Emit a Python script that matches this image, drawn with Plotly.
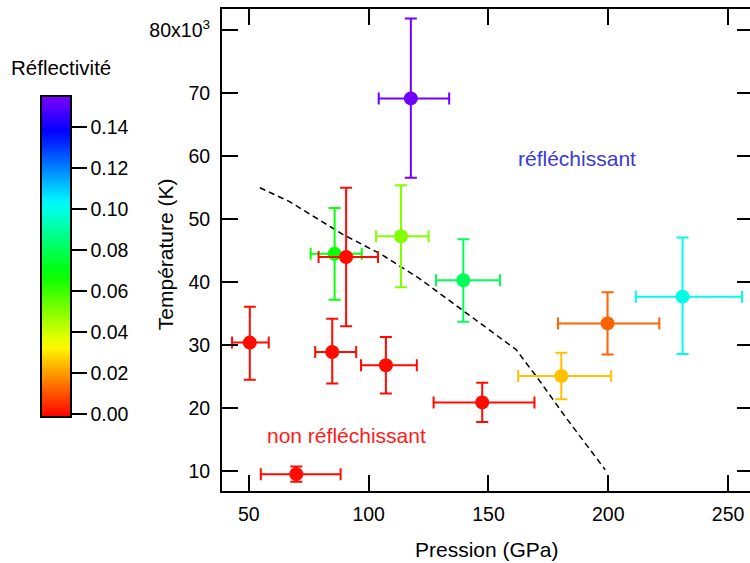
import colorsys
import plotly.graph_objects as go
from plotly.colors import sample_colorscale

# ---- data (pressure in GPa, temperature in 10^3 K) ----
pression = [85.8, 113.5, 139.5, 180.4, 199.7, 231.0, 117.6,
            69.8, 50.4, 84.8, 107.2, 90.6, 147.4]
temperature = [44.5, 47.3, 40.3, 25.1, 33.45, 37.7, 69.2,
               9.5, 30.4, 28.9, 26.8, 44.0, 20.9]
reflectivite = [0.068, 0.050, 0.080, 0.025, 0.012, 0.100, 0.153,
                0.0, 0.0, 0.0, 0.0, 0.0, 0.0]
p_err_minus = [10.0, 10.4, 11.4, 18.0, 20.7, 19.5, 13.4,
               14.8, 7.4, 7.1, 10.4, 11.5, 20.3]
p_err_plus = [11.3, 11.5, 15.3, 20.8, 21.6, 24.8, 16.0,
              18.5, 7.9, 10.0, 12.9, 13.3, 21.8]
t_err_minus = [7.3, 8.1, 6.6, 3.7, 4.95, 9.1, 12.6,
               1.2, 5.9, 5.0, 4.5, 11.0, 3.1]
t_err_plus = [7.3, 8.1, 6.5, 3.7, 4.95, 9.4, 12.7,
              1.2, 5.7, 5.3, 4.5, 11.0, 3.1]

limite_p = [54.6, 67.0, 89.2, 105.8, 121.1, 139.1, 155.7, 161.5, 171.0, 182.1, 198.7]
limite_t = [55.0, 52.8, 47.6, 44.3, 40.6, 35.6, 30.9, 29.3, 24.5, 18.6, 10.2]

x_ticks = [50, 100, 150, 200, 250]
y_ticks = [10, 20, 30, 40, 50, 60, 70, 80]
y_ticktext = ["10", "20", "30", "40", "50", "60", "70", "80x10<sup>3</sup>"]
cb_ticks = [0.0, 0.02, 0.04, 0.06, 0.08, 0.10, 0.12, 0.14]

CMIN, CMAX = -0.0015, 0.155

# rainbow colour table (hue 0 -> 270 deg)
n = 28
colorscale = []
for i in range(n + 1):
    f = i / n
    r, g, b = colorsys.hsv_to_rgb(f * 270 / 360, 1, 1)
    colorscale.append([f, f"rgb({int(r*255)},{int(g*255)},{int(b*255)})"])

FONT = "Liberation Sans, Arial, sans-serif"

# page layout (body margin removed below); the right frame lies just off-page
OFF = 0
W, H = 755, 563
L, T, B = 222, 9, 72
PW, PH = W - L, H - T - B


def px(page_x):
    return (page_x - OFF - L) / PW


def py(page_y):
    return (H - B - (page_y - OFF)) / PH


fig = go.Figure()

fig.add_trace(go.Scatter(
    x=limite_p, y=limite_t, mode="lines",
    line=dict(color="black", width=1.5, dash="6px,4px"),
    showlegend=False, hoverinfo="skip"))

for i in range(len(pression)):
    c = sample_colorscale(colorscale, [(reflectivite[i] - CMIN) / (CMAX - CMIN)])[0]
    fig.add_trace(go.Scatter(
        x=[pression[i]], y=[temperature[i]], mode="markers",
        marker=dict(size=14, color=[reflectivite[i]], coloraxis="coloraxis"),
        error_x=dict(type="data", symmetric=False, array=[p_err_plus[i]],
                     arrayminus=[p_err_minus[i]], color=c, thickness=2, width=6),
        error_y=dict(type="data", symmetric=False, array=[t_err_plus[i]],
                     arrayminus=[t_err_minus[i]], color=c, thickness=2, width=6),
        showlegend=False))

x_lo = 38.8
x_hi = 50 + (W - 249) / 2.405

fig.update_layout(
    width=W, height=H,
    margin=dict(l=L, r=0, t=T, b=B),
    paper_bgcolor="white", plot_bgcolor="white",
    font=dict(family=FONT, size=19.5, color="black"),
    coloraxis=dict(
        cmin=CMIN, cmax=CMAX, colorscale=colorscale,
        colorbar=dict(
            x=px(40), xanchor="left", xpad=0, ypad=0,
            y=py(256.5), yanchor="middle",
            thickness=30, thicknessmode="pixels",
            len=321, lenmode="pixels",
            outlinewidth=2, outlinecolor="black",
            ticks="outside", ticklen=15, tickwidth=2, tickcolor="black",
            tickvals=cb_ticks, ticktext=[f"{v:.2f}" for v in cb_ticks],
            tickfont=dict(family=FONT, size=19.5, color="black"),
        ),
    ),
    xaxis=dict(
        range=[x_lo, x_hi], tickvals=x_ticks, ticks="inside", ticklen=16,
        tickwidth=2, tickcolor="black", showline=True, linewidth=2,
        linecolor="black", mirror="allticks", showgrid=False, zeroline=False,
        tickfont=dict(size=19.5), ticklabelstandoff=5,
    ),
    yaxis=dict(
        range=[6.82, 83.4], tickvals=y_ticks, ticktext=y_ticktext,
        ticks="inside", ticklen=16, tickwidth=2, tickcolor="black",
        showline=True, linewidth=2, linecolor="black", mirror="allticks",
        showgrid=False, zeroline=False, tickfont=dict(size=19.5),
        ticklabelstandoff=6,
    ),
    annotations=[
        dict(text="Réflectivité", xref="paper", yref="paper",
             x=px(8), y=py(67), xanchor="left",
             yanchor="middle", showarrow=False, font=dict(size=20.5)),
        dict(text="Température (K)", xref="paper", yref="paper",
             x=px(165), y=py(254), textangle=-90, xanchor="center",
             yanchor="middle", showarrow=False, font=dict(size=21)),
        dict(text="Pression (GPa)", xref="paper", yref="paper",
             x=px(488), y=py(549), xanchor="center",
             yanchor="middle", showarrow=False, font=dict(size=21)),
        dict(text="réfléchissant", x=186.8, y=59.6, showarrow=False,
             font=dict(size=21, color="#3a3ad6")),
        dict(text="non réfléchissant", x=90.7, y=15.7, showarrow=False,
             font=dict(size=21, color="#ff1a1a")),
    ],
)

fig.write_html("out.html", config={"displayModeBar": False},
               post_script="document.body.style.margin='0';document.body.style.overflow='hidden';")
